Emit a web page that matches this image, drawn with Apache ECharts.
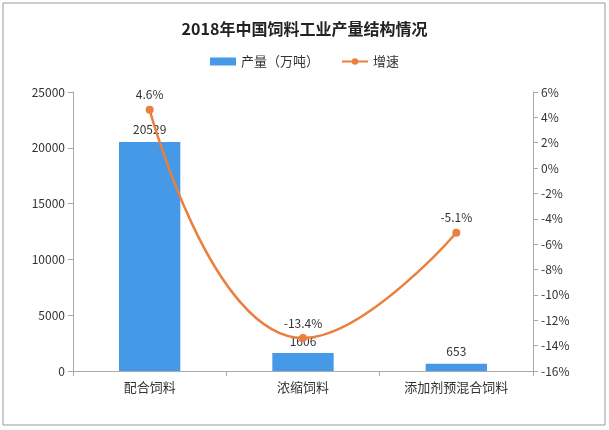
<!DOCTYPE html>
<html><head><meta charset="utf-8">
<script src="https://cdn.jsdelivr.net/npm/echarts@6/dist/echarts.min.js"></script>
<style>html,body{margin:0;padding:0;background:#fff}#c{width:609px;height:430px}</style>
</head><body><div id="c"></div>
<script>
const categories = ['配合饲料', '浓缩饲料', '添加剂预混合饲料'];
const production = [20529, 1606, 653];
const growth = [4.6, -13.4, -5.1];
const titleText = '2018年中国饲料工业产量结构情况';
const barName = '产量（万吨）';
const lineName = '增速';

const font = '"Noto Sans CJK SC", "Noto Sans", sans-serif';
const chart = echarts.init(document.getElementById('c'));
chart.setOption({
  backgroundColor: '#fff',
  animation: false,
  title: { text: titleText, left: 'center', top: 16,
    textStyle: { fontFamily: font, fontSize: 16, fontWeight: 'bold', color: '#222' } },
  legend: { top: 50, left: 'center', itemGap: 22, itemWidth: 26, itemHeight: 8,
    textStyle: { fontFamily: font, fontSize: 13, color: '#333' },
    data: [{ name: barName, icon: 'rect' }, { name: lineName }] },
  grid: { left: 73, right: 76, top: 92, bottom: 59 },
  xAxis: { type: 'category', data: categories,
    axisLine: { lineStyle: { color: '#aaa' } },
    axisTick: { show: true, alignWithLabel: false, lineStyle: { color: '#aaa' } },
    axisLabel: { fontFamily: font, fontSize: 13, color: '#333', margin: 10 } },
  yAxis: [
    { type: 'value', min: 0, max: 25000, interval: 5000,
      axisLine: { show: true, lineStyle: { color: '#aaa' } },
      axisTick: { show: true, lineStyle: { color: '#aaa' } },
      splitLine: { show: false },
      axisLabel: { fontFamily: font, fontSize: 12, color: '#333', margin: 8,
        formatter: v => String(v) } },
    { type: 'value', min: -16, max: 6, interval: 2,
      axisLine: { show: true, lineStyle: { color: '#aaa' } },
      axisTick: { show: true, lineStyle: { color: '#aaa' } },
      splitLine: { show: false },
      axisLabel: { fontFamily: font, fontSize: 12, color: '#333', margin: 8,
        formatter: v => v + '%' } }
  ],
  series: [
    { name: barName, type: 'bar', data: production, barWidth: '40%',
      itemStyle: { color: '#4599E6' },
      label: { show: true, position: 'top', fontFamily: font, fontSize: 12, color: '#333', distance: 6 } },
    { name: lineName, type: 'line', yAxisIndex: 1, data: growth, smooth: true,
      symbol: 'circle', symbolSize: 8,
      lineStyle: { color: '#EB7F3C', width: 2.5 },
      itemStyle: { color: '#EB7F3C' },
      label: { show: true, position: 'top', fontFamily: font, fontSize: 12, color: '#333',
        formatter: p => p.value.toFixed(1) + '%' } }
  ],
  graphic: [{ type: 'rect', shape: { x: 3, y: 3, width: 602, height: 422 },
    style: { fill: 'none', stroke: '#999', lineWidth: 1 } }]
});
</script></body></html>
